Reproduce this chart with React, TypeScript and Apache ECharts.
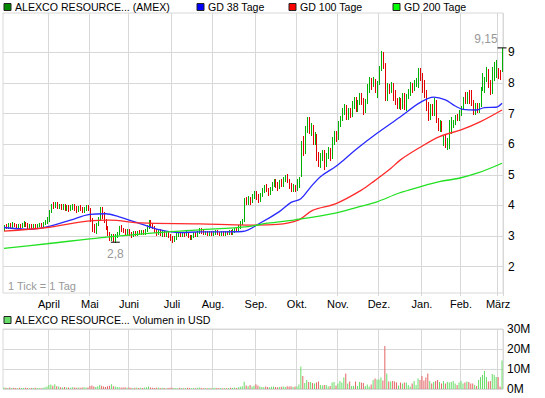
import React, { useEffect, useRef } from "react";
import * as echarts from "echarts";

const FONT = "'Liberation Sans', Arial, sans-serif";

// US market holidays in the range (categories = trading days)
const HOLIDAYS = ["2010-04-02", "2010-05-31", "2010-07-05", "2010-09-06", "2010-11-25", "2010-12-24", "2011-01-17", "2011-02-21"];
const MONTHS = ["Jan.", "Feb.", "März", "April", "Mai", "Juni", "Juli", "Aug.", "Sep.", "Okt.", "Nov.", "Dez."];
const Y_TICKS = [2, 3, 4, 5, 6, 7, 8, 9];

function buildDates(): string[] {
  const out: string[] = [];
  const d = new Date(Date.UTC(2010, 2, 1));
  const end = Date.UTC(2011, 2, 3);
  while (d.getTime() <= end) {
    const wd = d.getUTCDay();
    const s = d.toISOString().slice(0, 10);
    if (wd !== 0 && wd !== 6 && HOLIDAYS.indexOf(s) < 0) out.push(s);
    d.setUTCDate(d.getUTCDate() + 1);
  }
  return out;
}
const dates = buildDates();

// [open, close, low, high]
const mar10 = [
  [3.22, 3.34, 3.20, 3.36], [3.34, 3.30, 3.26, 3.38], [3.30, 3.38, 3.28, 3.42], [3.38, 3.32, 3.28, 3.44],
  [3.32, 3.40, 3.30, 3.46], [3.40, 3.36, 3.32, 3.44], [3.36, 3.30, 3.26, 3.40], [3.30, 3.36, 3.26, 3.40],
  [3.36, 3.32, 3.28, 3.40], [3.32, 3.40, 3.30, 3.44], [3.40, 3.44, 3.34, 3.48], [3.44, 3.38, 3.34, 3.46],
  [3.38, 3.30, 3.26, 3.42], [3.30, 3.36, 3.26, 3.40], [3.36, 3.32, 3.28, 3.40], [3.32, 3.36, 3.28, 3.40],
  [3.36, 3.30, 3.28, 3.40], [3.30, 3.36, 3.28, 3.40], [3.36, 3.40, 3.32, 3.44], [3.40, 3.36, 3.32, 3.44],
  [3.36, 3.42, 3.34, 3.46], [3.42, 3.46, 3.38, 3.52], [3.46, 3.58, 3.44, 3.62],
];
const apr10 = [
  [3.55, 3.84, 3.50, 3.86], [3.84, 4.02, 3.78, 4.06], [4.02, 3.98, 3.92, 4.10], [3.98, 4.06, 3.94, 4.10],
  [4.06, 3.98, 3.92, 4.12], [3.98, 4.02, 3.92, 4.06], [4.02, 3.94, 3.88, 4.06], [3.94, 4.00, 3.88, 4.04],
  [4.00, 3.92, 3.86, 4.04], [3.92, 3.98, 3.86, 4.02], [3.98, 3.88, 3.82, 4.02], [3.88, 3.96, 3.84, 4.00],
  [3.96, 4.00, 3.90, 4.04], [4.00, 3.92, 3.86, 4.04], [3.92, 3.86, 3.80, 3.98], [3.86, 3.94, 3.82, 3.98],
  [3.94, 3.90, 3.84, 4.00], [3.90, 3.84, 3.80, 3.96], [3.84, 3.92, 3.80, 3.96], [3.92, 3.96, 3.86, 4.02],
  [3.96, 3.90, 3.84, 4.00],
];
const may10 = [
  [3.90, 3.56, 3.50, 3.92], [3.56, 3.30, 3.16, 3.60], [3.30, 3.18, 3.12, 3.40], [3.18, 3.40, 3.10, 3.44],
  [3.40, 3.56, 3.36, 3.62], [3.56, 3.90, 3.54, 3.96], [3.90, 3.72, 3.58, 3.94], [3.72, 3.50, 3.46, 3.80],
  [3.50, 3.30, 3.22, 3.56], [3.30, 3.10, 3.04, 3.34], [3.10, 2.92, 2.88, 3.14], [2.92, 3.04, 2.86, 3.08],
  [3.04, 2.90, 2.84, 3.08], [2.90, 3.02, 2.80, 3.06], [3.02, 3.10, 2.96, 3.14], [3.10, 3.30, 3.06, 3.34],
  [3.30, 3.22, 3.16, 3.36], [3.22, 3.18, 3.12, 3.28], [3.18, 3.12, 3.06, 3.24], [3.12, 3.20, 3.08, 3.24],
];
const jun10 = [
  [3.20, 3.10, 3.04, 3.24], [3.10, 3.04, 2.98, 3.14], [3.04, 3.12, 3.00, 3.16], [3.12, 3.08, 3.02, 3.16],
  [3.08, 3.14, 3.04, 3.18], [3.14, 3.10, 3.06, 3.20], [3.10, 3.16, 3.06, 3.20], [3.16, 3.12, 3.06, 3.20],
  [3.12, 3.20, 3.08, 3.24], [3.20, 3.32, 3.16, 3.36], [3.32, 3.46, 3.28, 3.52], [3.46, 3.40, 3.34, 3.52],
  [3.40, 3.30, 3.26, 3.44], [3.30, 3.20, 3.14, 3.34], [3.20, 3.12, 3.04, 3.24], [3.12, 3.18, 3.06, 3.22],
  [3.18, 3.08, 3.02, 3.22], [3.08, 3.14, 3.00, 3.18], [3.14, 3.06, 3.00, 3.18], [3.06, 3.10, 3.00, 3.16],
  [3.10, 3.02, 2.96, 3.14], [3.02, 2.94, 2.88, 3.06],
];
const jul10 = [
  [2.94, 2.88, 2.82, 3.00], [2.88, 2.96, 2.84, 3.00], [2.96, 3.06, 2.92, 3.10], [3.06, 3.10, 3.00, 3.14],
  [3.10, 3.04, 3.00, 3.14], [3.04, 3.10, 3.00, 3.14], [3.10, 3.06, 3.00, 3.14], [3.06, 3.12, 3.02, 3.16],
  [3.12, 3.00, 2.96, 3.14], [3.00, 2.94, 2.90, 3.04], [2.94, 3.00, 2.90, 3.04], [3.00, 3.08, 2.96, 3.12],
  [3.08, 3.04, 3.00, 3.12], [3.04, 3.14, 3.00, 3.18], [3.14, 3.24, 3.10, 3.28], [3.24, 3.16, 3.10, 3.26],
  [3.16, 3.10, 3.06, 3.20], [3.10, 3.14, 3.06, 3.18], [3.14, 3.08, 3.04, 3.18], [3.08, 3.12, 3.04, 3.16],
  [3.12, 3.08, 3.04, 3.16],
];
const aug10 = [
  [3.08, 3.12, 3.04, 3.16], [3.12, 3.16, 3.08, 3.20], [3.16, 3.10, 3.06, 3.20], [3.10, 3.06, 3.02, 3.14],
  [3.06, 3.12, 3.02, 3.16], [3.12, 3.08, 3.04, 3.16], [3.08, 3.14, 3.04, 3.18], [3.14, 3.10, 3.06, 3.18],
  [3.10, 3.16, 3.06, 3.20], [3.16, 3.12, 3.08, 3.20], [3.12, 3.18, 3.08, 3.22], [3.18, 3.24, 3.14, 3.28],
  [3.24, 3.20, 3.16, 3.30], [3.20, 3.32, 3.18, 3.36], [3.32, 3.44, 3.28, 3.50], [3.44, 3.50, 3.40, 3.56],
  [3.50, 4.20, 3.48, 4.26], [4.20, 4.10, 4.04, 4.28], [4.10, 4.20, 4.06, 4.30], [4.20, 4.12, 4.06, 4.28],
  [4.12, 4.30, 4.10, 4.36], [4.30, 4.40, 4.24, 4.46],
];
const sep10 = [
  [4.40, 4.30, 4.22, 4.46], [4.30, 4.20, 4.10, 4.38], [4.20, 4.36, 4.16, 4.42], [4.36, 4.50, 4.30, 4.56],
  [4.50, 4.62, 4.44, 4.68], [4.62, 4.52, 4.46, 4.70], [4.52, 4.40, 4.34, 4.58], [4.40, 4.56, 4.36, 4.62],
  [4.56, 4.70, 4.50, 4.76], [4.70, 4.82, 4.64, 4.88], [4.82, 4.70, 4.62, 4.86], [4.70, 4.60, 4.52, 4.76],
  [4.60, 4.76, 4.56, 4.82], [4.76, 4.70, 4.64, 4.86], [4.70, 4.86, 4.64, 4.92], [4.86, 4.94, 4.80, 5.00],
  [4.94, 4.84, 4.76, 5.02], [4.84, 4.66, 4.56, 4.88], [4.66, 4.54, 4.48, 4.72], [4.54, 4.64, 4.48, 4.70],
  [4.64, 4.56, 4.46, 4.68],
];
const oct10 = [
  [4.56, 4.80, 4.52, 4.86], [4.80, 4.90, 4.60, 4.94], [4.95, 6.00, 4.95, 6.10], [6.00, 5.74, 5.66, 6.26],
  [5.74, 6.50, 5.70, 6.60], [6.50, 6.84, 6.40, 6.90], [6.84, 6.44, 6.36, 6.90], [6.44, 6.60, 6.30, 6.70],
  [6.60, 6.10, 6.02, 6.64], [6.10, 6.30, 6.00, 6.40], [6.30, 5.60, 5.50, 6.34], [5.60, 5.40, 5.30, 5.74],
  [5.40, 5.60, 5.26, 5.70], [5.60, 5.70, 5.50, 5.80], [5.70, 5.30, 5.20, 5.80], [5.30, 5.62, 5.28, 5.70],
  [5.62, 5.80, 5.56, 5.90], [5.80, 5.60, 5.50, 5.88], [5.60, 6.10, 5.56, 6.24], [6.10, 6.34, 6.02, 6.42],
  [6.34, 6.20, 6.10, 6.44],
];
const nov10 = [
  [6.20, 6.70, 6.16, 6.76], [6.70, 6.86, 6.60, 6.92], [6.86, 7.10, 6.80, 7.20], [7.10, 7.24, 7.00, 7.30],
  [7.24, 6.90, 6.82, 7.28], [6.90, 7.10, 6.84, 7.20], [7.10, 6.96, 6.88, 7.20], [6.96, 7.30, 6.92, 7.40],
  [7.30, 7.50, 7.20, 7.56], [7.50, 7.20, 7.10, 7.56], [7.20, 7.40, 7.10, 7.46], [7.40, 7.62, 7.30, 7.68],
  [7.62, 7.40, 7.30, 7.68], [7.40, 7.10, 7.00, 7.50], [7.10, 7.40, 7.06, 7.48], [7.40, 7.90, 7.36, 7.98],
  [7.90, 8.10, 7.70, 8.20], [8.10, 7.96, 7.80, 8.16], [7.96, 8.10, 7.90, 8.20], [8.10, 7.80, 7.70, 8.14],
  [7.80, 8.00, 7.56, 8.06],
];
const dec10 = [
  [8.00, 8.50, 7.96, 8.56], [8.50, 8.94, 8.44, 9.04], [8.94, 8.60, 8.50, 9.00], [8.60, 7.50, 7.44, 8.66],
  [7.50, 7.86, 7.46, 8.00], [7.86, 7.74, 7.66, 7.98], [7.74, 7.94, 7.70, 8.04], [7.94, 7.50, 7.44, 8.00],
  [7.50, 7.40, 7.30, 7.76], [7.40, 7.26, 7.18, 7.50], [7.26, 7.46, 7.20, 7.56], [7.46, 7.24, 7.16, 7.50],
  [7.24, 7.60, 7.20, 7.66], [7.60, 7.30, 7.14, 7.66], [7.30, 7.58, 7.12, 7.64], [7.58, 7.74, 7.50, 7.80],
  [7.74, 7.96, 7.62, 8.04], [7.96, 7.80, 7.70, 8.00], [7.80, 8.00, 7.76, 8.10], [8.00, 8.10, 7.90, 8.16],
  [8.10, 8.40, 7.88, 8.48], [8.40, 8.26, 8.10, 8.50],
];
const jan11 = [
  [8.26, 7.90, 7.70, 8.34], [7.90, 7.60, 7.54, 8.10], [7.60, 7.20, 7.12, 7.76], [7.20, 6.86, 6.80, 7.38],
  [6.86, 7.20, 6.84, 7.30], [7.20, 7.00, 6.96, 7.30], [7.00, 7.40, 6.96, 7.50], [7.40, 6.80, 6.74, 7.44],
  [6.80, 6.50, 6.46, 6.86], [6.50, 6.70, 6.44, 6.80], [6.70, 6.48, 6.44, 6.76], [6.00, 6.26, 5.98, 6.30],
  [6.26, 5.96, 5.92, 6.30], [5.96, 6.10, 5.86, 6.20], [6.10, 6.70, 5.88, 6.80], [6.70, 6.84, 6.36, 6.90],
  [6.60, 6.76, 6.56, 6.80], [6.76, 6.90, 6.66, 6.96], [6.90, 6.84, 6.78, 7.00], [6.84, 7.06, 6.80, 7.12],
];
const feb11 = [
  [7.06, 7.20, 6.96, 7.26], [7.20, 7.50, 7.20, 7.56], [7.50, 7.40, 7.34, 7.72], [7.40, 7.60, 7.36, 7.72],
  [7.60, 7.44, 7.36, 7.76], [7.44, 7.30, 7.28, 7.76], [7.30, 7.04, 7.00, 7.44], [7.04, 7.30, 7.00, 7.36],
  [7.30, 7.10, 7.04, 7.36], [7.10, 7.30, 7.06, 7.36], [7.30, 7.80, 7.26, 7.88], [7.80, 8.20, 7.78, 8.32],
  [7.74, 8.10, 7.70, 8.20], [8.10, 8.44, 8.08, 8.54], [8.44, 7.90, 7.86, 8.46], [7.90, 7.70, 7.64, 8.10],
  [7.70, 8.40, 7.66, 8.54], [8.40, 8.62, 8.10, 8.70], [8.62, 8.70, 8.20, 8.76],
];
const mar11 = [
  [8.50, 8.24, 8.16, 8.50], [8.36, 8.20, 8.12, 8.44], [8.40, 9.10, 8.40, 9.15],
];
const ohlc = [...mar10, ...apr10, ...may10, ...jun10, ...jul10, ...aug10, ...sep10, ...oct10, ...nov10, ...dec10, ...jan11, ...feb11, ...mar11];

// volume in millions USD
const volMar10 = [0.8, 0.6, 0.5, 0.7, 0.5, 0.6, 0.5, 0.4, 0.6, 0.5, 0.5, 0.6, 0.5, 0.4, 0.5, 0.5, 0.6, 0.5, 0.5, 0.4, 0.6, 0.9, 1.2];
const volApr10 = [2.0, 2.2, 1.6, 2.4, 1.4, 1.2, 0.9, 0.8, 1.0, 0.7, 0.8, 0.6, 0.9, 0.7, 0.6, 0.8, 0.6, 0.7, 0.9, 0.8, 0.7];
const volMay10 = [1.5, 1.8, 1.2, 1.0, 1.4, 2.0, 1.6, 1.2, 1.0, 1.4, 1.6, 2.4, 1.4, 1.2, 1.0, 0.9, 0.8, 0.7, 0.9, 0.6];
const volJun10 = [0.7, 0.6, 0.5, 0.6, 0.8, 0.5, 0.6, 0.5, 0.7, 0.9, 1.2, 0.8, 0.6, 0.5, 0.6, 0.7, 0.5, 0.6, 0.5, 0.4, 0.5, 0.6];
const volJul10 = [0.6, 0.5, 0.5, 0.4, 0.6, 0.5, 0.4, 0.5, 0.6, 0.5, 0.4, 0.5, 0.4, 0.6, 0.8, 0.5, 0.4, 0.5, 0.4, 0.5, 0.4];
const volAug10 = [0.5, 0.6, 0.5, 0.4, 0.5, 0.4, 0.5, 0.4, 0.5, 0.6, 0.5, 0.7, 0.5, 0.9, 1.1, 1.4, 3.6, 1.8, 1.4, 2.0, 1.2, 1.6];
const volSep10 = [2.4, 1.8, 1.2, 1.0, 0.9, 1.2, 1.0, 0.9, 1.1, 1.2, 1.0, 0.9, 1.0, 1.1, 1.2, 1.0, 1.4, 1.2, 1.4, 1.0, 1.2];
const volOct10 = [1.2, 2.2, 11.2, 6.5, 3.0, 4.5, 3.5, 3.5, 3.0, 2.7, 3.2, 3.7, 2.0, 1.7, 2.0, 2.0, 1.2, 1.5, 3.2, 3.5, 1.7];
const volNov10 = [2.8, 4.0, 3.2, 5.8, 7.7, 2.8, 3.7, 1.5, 1.6, 3.7, 1.5, 3.5, 3.2, 3.0, 1.5, 2.3, 1.2, 2.3, 4.5, 5.3, 4.8];
const volDec10 = [4.8, 5.8, 4.2, 21.5, 7.7, 3.7, 3.7, 4.0, 3.7, 3.2, 1.8, 3.2, 2.7, 3.2, 3.2, 2.0, 1.2, 2.8, 4.0, 2.0, 5.3, 4.5];
const volJan11 = [6.5, 4.2, 5.8, 7.7, 4.0, 2.8, 3.5, 4.0, 4.5, 3.5, 2.8, 4.0, 2.8, 3.5, 3.3, 3.5, 4.0, 2.8, 2.0, 3.3];
const volFeb11 = [4.0, 2.8, 3.3, 3.7, 3.5, 2.8, 2.8, 2.0, 1.5, 4.5, 6.0, 7.0, 9.0, 6.0, 3.7, 4.0, 7.5, 7.0, 6.0];
const volMar11 = [6.0, 1.2, 14.2];
const volumes = [...volMar10, ...volApr10, ...volMay10, ...volJun10, ...volJul10, ...volAug10, ...volSep10, ...volOct10, ...volNov10, ...volDec10, ...volJan11, ...volFeb11, ...volMar11];

// moving averages read at sample points: [trading-day index, value]
const gd38 = [
  [0, 3.28], [13, 3.22], [22, 3.30], [34, 3.52], [44, 3.71], [52, 3.73], [59, 3.63], [70, 3.40], [80, 3.20],
  [90, 3.11], [100, 3.14], [111, 3.14], [122, 3.15], [131, 3.42], [141, 3.80], [147, 4.10], [152, 4.22],
  [157, 4.60], [162, 4.94], [170, 5.28], [174, 5.49], [181, 5.87], [191, 6.36], [203, 6.90], [213, 7.36],
  [220, 7.54], [226, 7.45], [231, 7.25], [235, 7.14], [242, 7.12], [246, 7.20], [252, 7.21], [255, 7.34],
];
const gd100 = [
  [0, 3.16], [22, 3.28], [44, 3.50], [54, 3.52], [70, 3.43], [100, 3.40], [125, 3.36], [140, 3.38],
  [151, 3.53], [158, 3.84], [170, 4.06], [183, 4.50], [190, 4.82], [198, 5.21], [203, 5.49], [212, 5.86],
  [223, 6.25], [234, 6.47], [244, 6.74], [255, 7.12],
];
const gd200 = [
  [0, 2.60], [22, 2.75], [50, 2.95], [74, 3.09], [100, 3.20], [125, 3.31], [135, 3.42], [149, 3.53],
  [169, 3.74], [182, 3.96], [191, 4.12], [202, 4.40], [213, 4.61], [223, 4.78], [233, 4.89], [243, 5.07],
  [255, 5.38],
];

const UP = "#00b000";
const DOWN = "#e00000";
const VOL_UP = "#66dd66";
const VOL_DOWN = "#e46464";
const GRID = "#d8d8d8";

const isMonthStart = (i: number) => i > 0 && dates[i].slice(5, 7) !== dates[i - 1].slice(5, 7);

export default function App() {
  const ref = useRef<HTMLDivElement>(null);
  useEffect(() => {
    if (!ref.current) return;
    const chart = echarts.init(ref.current, undefined, { renderer: "svg" });
    const volData = volumes.map((v, i) => ({
      value: v,
      itemStyle: { color: ohlc[i] && ohlc[i][1] >= ohlc[i][0] ? VOL_UP : VOL_DOWN },
    }));
    const barData = ohlc.map((d, i) => [i, d[0], d[1], d[2], d[3]]);
    const legendItem = (x: number, y: number, color: string, text: string) => [
      { type: "rect", shape: { x, y: y - 3.5, width: 7, height: 7 }, style: { fill: color, stroke: "#222", lineWidth: 1 } },
      { type: "text", x: x + 11, y, style: { text, fill: "#000", font: `10.6px ${FONT}`, textVerticalAlign: "middle" } },
    ];
    const option: any = {
      animation: false,
      backgroundColor: "#fff",
      textStyle: { fontFamily: FONT },
      grid: [
        { left: 3, right: 42, top: 13, height: 280, show: true, borderColor: GRID, borderWidth: 1 },
        { left: 3, right: 42, top: 329, height: 60, show: true, borderColor: GRID, borderWidth: 1 },
      ],
      xAxis: [
        {
          type: "category", gridIndex: 0, data: dates, boundaryGap: true,
          axisLine: { show: false },
          axisTick: { show: true, length: 3, interval: (i: number) => isMonthStart(i), lineStyle: { color: GRID } },
          axisLabel: {
            interval: (i: number) => isMonthStart(i),
            formatter: (v: string) => MONTHS[parseInt(v.slice(5, 7), 10) - 1],
            color: "#000", fontSize: 11, margin: 5, fontFamily: FONT,
          },
          splitLine: { show: true, interval: (i: number) => isMonthStart(i), lineStyle: { color: GRID, width: 1 } },
        },
        {
          type: "category", gridIndex: 1, data: dates, boundaryGap: true,
          axisLine: { show: false }, axisTick: { show: false }, axisLabel: { show: false },
          splitLine: { show: true, interval: (i: number) => isMonthStart(i), lineStyle: { color: GRID, width: 1 } },
        },
      ],
      yAxis: [
        {
          type: "value", gridIndex: 0, position: "right", min: 1.14, max: 10.29, scale: true,
          axisLine: { show: false },
          axisTick: { show: false, customValues: Y_TICKS },
          axisLabel: { customValues: Y_TICKS, color: "#000", fontSize: 12, margin: 5, fontFamily: FONT },
          splitLine: { show: true, lineStyle: { color: GRID, width: 1 } },
        },
        {
          type: "value", gridIndex: 1, position: "right", min: 0, max: 30, interval: 10,
          axisLine: { show: false }, axisTick: { show: false },
          axisLabel: { formatter: (v: number) => `${v}M`, color: "#000", fontSize: 12, margin: 4, fontFamily: FONT },
          splitLine: { show: true, lineStyle: { color: GRID, width: 1 } },
        },
      ],
      series: [
        {
          type: "custom", xAxisIndex: 0, yAxisIndex: 0, data: barData, z: 3, silent: true,
          dimensions: ["idx", "open", "close", "lowest", "highest"],
          encode: { x: "idx", y: ["open", "close", "lowest", "highest"] },
          renderItem: (_p: any, api: any) => {
            const i = api.value(0);
            const top = api.coord([i, api.value(4)]);
            const bot = api.coord([i, api.value(3)]);
            const x = Math.round(top[0]);
            const y1 = Math.round(top[1]);
            const y2 = Math.round(bot[1]) + 1;
            const col = api.value(2) >= api.value(1) ? UP : DOWN;
            return {
              type: "rect",
              shape: { x, y: y1, width: 1, height: Math.max(1, y2 - y1) },
              style: { fill: col },
            };
          },
          markPoint: {
            symbol: "rect", symbolSize: [9, 1], silent: true,
            itemStyle: { color: "#000" },
            label: {
              show: true, position: "inside", color: "#999", fontSize: 12, fontFamily: FONT,
              formatter: (p: any) => String(p.value).replace(".", ","),
            },
            data: [
              { type: "max", valueDim: "highest", label: { offset: [-16, -9] } },
              { type: "min", valueDim: "lowest", label: { offset: [0, 12] } },
            ],
          },
        },
        { type: "line", xAxisIndex: 0, yAxisIndex: 0, data: gd38, smooth: 0.35, symbol: "none", z: 4, lineStyle: { color: "#2a2aff", width: 1.3 } },
        { type: "line", xAxisIndex: 0, yAxisIndex: 0, data: gd100, smooth: 0.35, symbol: "none", z: 4, lineStyle: { color: "#ff2a2a", width: 1.3 } },
        { type: "line", xAxisIndex: 0, yAxisIndex: 0, data: gd200, smooth: 0.35, symbol: "none", z: 4, lineStyle: { color: "#22e022", width: 1.3 } },
        { type: "bar", xAxisIndex: 1, yAxisIndex: 1, data: volData, barWidth: 1 },
      ],
      graphic: [
        ...legendItem(4, 7, "#008800", "ALEXCO RESOURCE... (AMEX)"),
        ...legendItem(197, 7, "#0000ff", "GD 38 Tage"),
        ...legendItem(289, 7, "#ff0000", "GD 100 Tage"),
        ...legendItem(393, 7, "#00ff00", "GD 200 Tage"),
        ...legendItem(4, 320, VOL_UP, "ALEXCO RESOURCE... Volumen in USD"),
        { type: "text", x: 8, y: 286, style: { text: "1 Tick = 1 Tag", fill: "#999", font: `11px ${FONT}`, textVerticalAlign: "middle" } },
      ],
    };
    chart.setOption(option);
    return () => chart.dispose();
  }, []);
  return <div ref={ref} style={{ position: "fixed", left: 0, top: 0, width: 545, height: 398 }} />;
}
